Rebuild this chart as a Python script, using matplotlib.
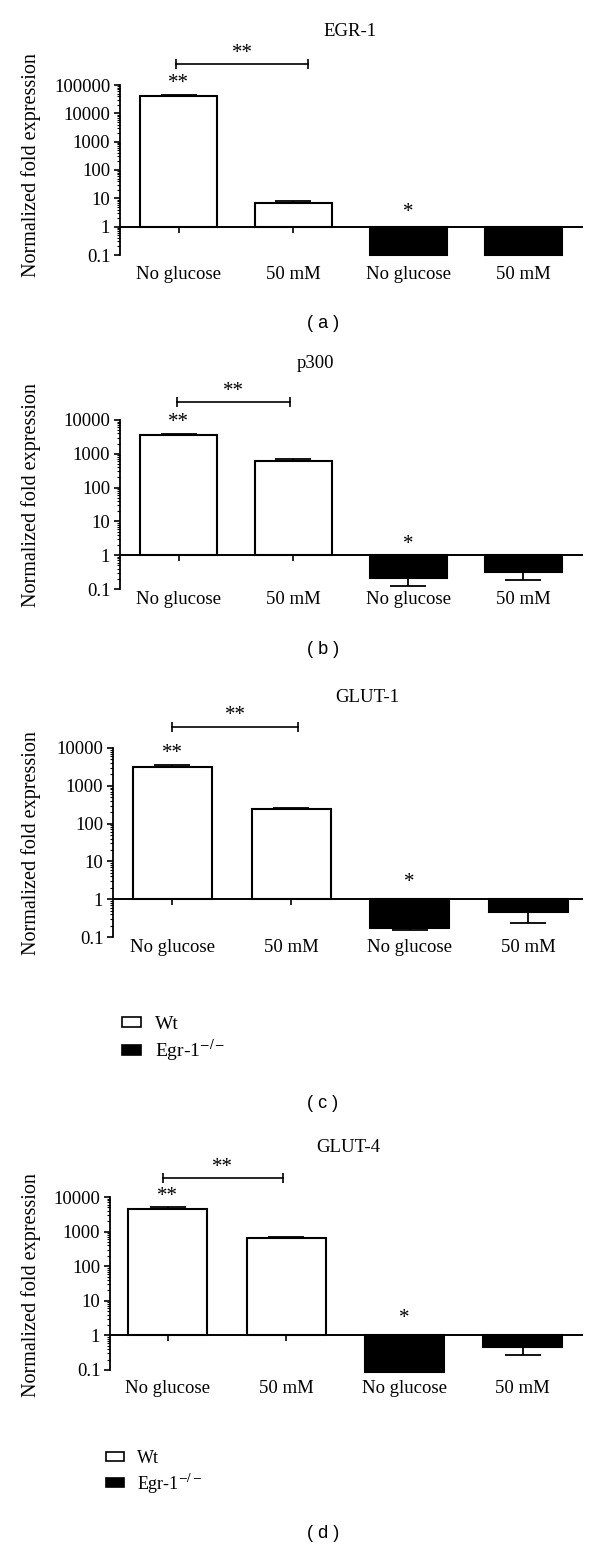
import numpy as np
import matplotlib
matplotlib.use("Agg")
import matplotlib.pyplot as plt
import matplotlib.transforms as mtransforms
from matplotlib.patches import Patch

plt.rcParams["font.family"] = ["Liberation Serif", "DejaVu Serif"]
plt.rcParams["mathtext.fontset"] = "stix"

W, H = 600, 1545

conditions = ["No glucose", "50 mM", "No glucose", "50 mM"]
genotype_is_ko = [False, False, True, True]
genes = ["EGR-1", "p300", "GLUT-1", "GLUT-4"]
tags = ["( a )", "( b )", "( c )", "( d )"]
legend_labels = ["Wt", "Egr-1$^{-/-}$"]

# mean fold expression and error-bar end, order: Wt 0 glc, Wt 50 mM, KO 0 glc, KO 50 mM
egr1_mean = [41000, 6.6, 0.1, 0.1]
egr1_err = [44500, 8.3, np.nan, np.nan]
p300_mean = [3600, 630, 0.205, 0.32]
p300_err = [3950, 690, 0.122, 0.19]
glut1_mean = [3160, 240, 0.175, 0.445]
glut1_err = [3640, 262, 0.155, 0.24]
glut4_mean = [4550, 645, 0.087, 0.46]
glut4_err = [5000, 690, np.nan, 0.276]

means = [egr1_mean, p300_mean, glut1_mean, glut4_mean]
errs = [egr1_err, p300_err, glut1_err, glut4_err]
ytops = [1e5, 1e4, 1e4, 1e4]
bar_marks = ["**", "", "*", ""]

# pixel layout of each panel
layout = [
    dict(L=120, T=85, B=255, xlim=(-0.51, 3.52), w=0.67, title=(350, 32), tag=323,
         br=(-0.02, 1.13), bry=1.124, pad=8, ylab=(31, 165), leg=None, st=10),
    dict(L=120, T=420, B=589, xlim=(-0.51, 3.52), w=0.67, title=(315, 364), tag=650,
         br=(-0.01, 0.97), bry=1.107, pad=1.5, ylab=(31, 495), leg=None, st=8),
    dict(L=113, T=748, B=937, xlim=(-0.50, 3.46), w=0.666, title=(367, 697), tag=1103,
         br=(0.0, 1.06), bry=1.111, pad=1.5, ylab=(31, 843), leg=(122, 1016, 14), st=12),
    dict(L=110, T=1197, B=1370, xlim=(-0.49, 3.51), w=0.668, title=(348, 1147), tag=1534,
         br=(-0.04, 0.97), bry=1.11, pad=7, ylab=(31, 1285), leg=(106, 1450, 13), st=12),
]

fig = plt.figure(figsize=(W / 100, H / 100), dpi=100)
x = np.arange(len(conditions))

for i, lay in enumerate(layout):
    ax = fig.add_axes([lay["L"] / W, 1 - lay["B"] / H, (583 - lay["L"]) / W,
                       (lay["B"] - lay["T"]) / H])
    m = np.array(means[i], dtype=float)
    e = np.array(errs[i], dtype=float)
    colors = ["black" if k else "white" for k in genotype_is_ko]

    ax.set_yscale("log")
    ax.set_ylim(0.1, ytops[i])
    ax.set_xlim(*lay["xlim"])

    ax.plot(x[:2], [1, 1], ls="none", marker=3, ms=4, mew=1.2, color="black", zorder=1)
    ax.bar(x, m - 1, bottom=1, width=lay["w"], color=colors, edgecolor="black",
           linewidth=1.5, zorder=2, clip_on=False)
    ax.axhline(1, color="black", lw=1.4, zorder=3)

    for j in range(len(x)):
        if np.isnan(e[j]):
            continue
        if e[j] > m[j]:
            yerr = [[0], [e[j] - m[j]]]
        else:
            yerr = [[m[j] - e[j]], [0]]
        ax.errorbar([x[j]], [m[j]], yerr=yerr, fmt="none", ecolor="black",
                    elinewidth=1.3, capsize=13, capthick=1.3, zorder=1.5)

    # significance marks
    top0 = e[0] if not np.isnan(e[0]) else m[0]
    ax.annotate(bar_marks[0], xy=(x[0], top0), xytext=(0, 8), textcoords="offset points",
                ha="center", va="center", fontsize=15)
    ax.annotate(bar_marks[2], xy=(x[2], 1), xytext=(0, lay["st"]), textcoords="offset points",
                ha="center", va="center", fontsize=15)
    trans = mtransforms.blended_transform_factory(ax.transData, ax.transAxes)
    x0, x1 = lay["br"]
    ax.plot([x0, x1], [lay["bry"]] * 2, color="black", lw=1.2, marker="|", ms=7,
            mew=1.2, transform=trans, clip_on=False)
    ax.text((x0 + x1) / 2, lay["bry"] + 0.06, "**", transform=trans, ha="center",
            va="center", fontsize=15)

    # axes styling
    for s in ["top", "right", "bottom"]:
        ax.spines[s].set_visible(False)
    ax.spines["left"].set_linewidth(1.3)
    decades = [10.0 ** k for k in range(-1, int(np.log10(ytops[i])) + 1)]
    ax.set_yticks(decades)
    ax.set_yticklabels(["0.1" if d < 1 else str(int(d)) for d in decades], fontsize=13.5)
    ax.yaxis.set_minor_locator(matplotlib.ticker.LogLocator(base=10, subs=np.arange(2, 10)))
    ax.yaxis.set_minor_formatter(matplotlib.ticker.NullFormatter())
    ax.tick_params(axis="y", which="major", length=4, width=1.2, pad=3)
    ax.tick_params(axis="y", which="minor", length=2.5, width=0.8)
    ax.set_xticks(x)
    ax.set_xticklabels(conditions, fontsize=13.5)
    ax.tick_params(axis="x", length=0, pad=lay["pad"])

    fig.text(lay["ylab"][0] / W, 1 - lay["ylab"][1] / H, "Normalized fold expression",
             rotation=90, ha="center", va="center", fontsize=14.5)
    fig.text(lay["title"][0] / W, 1 - lay["title"][1] / H, genes[i], ha="center",
             va="center", fontsize=13.5)
    fig.text(323 / W, 1 - lay["tag"] / H, tags[i], ha="center", va="center",
             fontsize=13, family="Liberation Sans")

    if lay["leg"] is not None:
        lx, ly, fs = lay["leg"]
        handles = [Patch(facecolor="white", edgecolor="black", lw=1.2),
                   Patch(facecolor="black", edgecolor="black", lw=1.2)]
        fig.legend(handles, legend_labels, loc="upper left",
                   bbox_to_anchor=(lx / W, 1 - ly / H), frameon=False, fontsize=fs,
                   handlelength=1.0, handleheight=0.45, handletextpad=0.7,
                   labelspacing=0.25, borderaxespad=0, borderpad=0)

fig.savefig("out.png", dpi=100)
